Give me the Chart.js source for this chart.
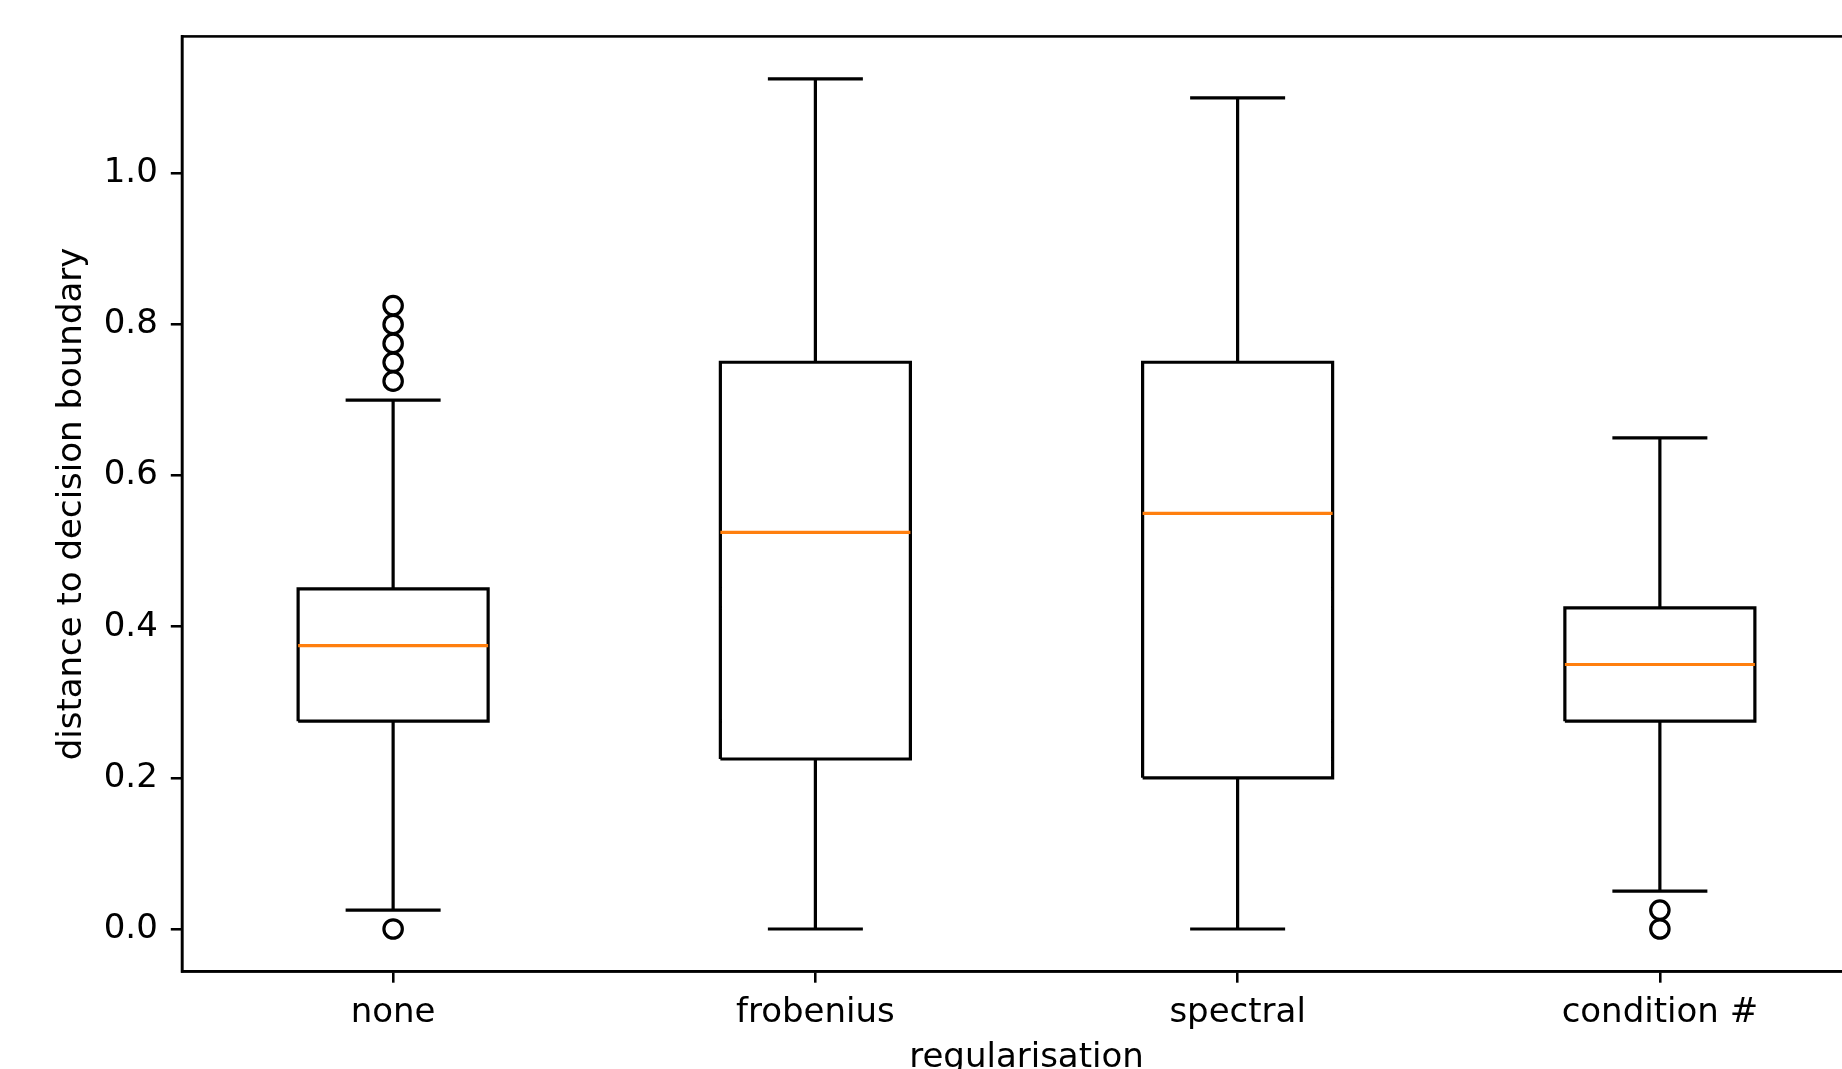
<!DOCTYPE html>
<html lang="en">
<head>
    <meta charset="UTF-8">
    <title>distance to decision boundary by regularisation</title>
    <script src="https://cdn.jsdelivr.net/npm/chart.js"></script>
    <style>
        html, body { margin: 0; padding: 0; background: #fff; overflow: hidden; }
        #wrap { width: 1900px; height: 1100px; }
    </style>
</head>
<body>
    <div id="wrap">
        <canvas id="boxChart" width="1900" height="1100"></canvas>
    </div>

    <script>
        // box plot summary per regularisation method
        const categories = ['none', 'frobenius', 'spectral', 'condition #'];
        const whiskerLow = [0.025, 0.0, 0.0, 0.05];
        const q1 = [0.275, 0.225, 0.2, 0.275];
        const medians = [0.375, 0.525, 0.55, 0.35];
        const q3 = [0.45, 0.75, 0.75, 0.425];
        const whiskerHigh = [0.7, 1.125, 1.1, 0.65];
        const fliers = [
            [0.0, 0.725, 0.75, 0.775, 0.8, 0.825],
            [],
            [],
            [0.0, 0.025]
        ];
        const yTicks = [0.0, 0.2, 0.4, 0.6, 0.8, 1.0];

        const positions = categories.map((c, i) => i + 1);
        const boxWidth = 0.45;
        const capWidth = boxWidth / 2;

        // build line points (null y breaks the line between boxes)
        const boxPts = [], medPts = [], whiskPts = [], flierPts = [];
        positions.forEach((p, i) => {
            const l = p - boxWidth / 2, r = p + boxWidth / 2;
            boxPts.push({x: l, y: q1[i]}, {x: r, y: q1[i]}, {x: r, y: q3[i]},
                        {x: l, y: q3[i]}, {x: l, y: q1[i]}, {x: p, y: null});
            medPts.push({x: l, y: medians[i]}, {x: r, y: medians[i]}, {x: p, y: null});
            whiskPts.push({x: p, y: q1[i]}, {x: p, y: whiskerLow[i]}, {x: p, y: null});
            whiskPts.push({x: p, y: q3[i]}, {x: p, y: whiskerHigh[i]}, {x: p, y: null});
            whiskPts.push({x: p - capWidth / 2, y: whiskerLow[i]}, {x: p + capWidth / 2, y: whiskerLow[i]}, {x: p, y: null});
            whiskPts.push({x: p - capWidth / 2, y: whiskerHigh[i]}, {x: p + capWidth / 2, y: whiskerHigh[i]}, {x: p, y: null});
            fliers[i].forEach(v => flierPts.push({x: p, y: v}));
        });

        const lw = 3.2;
        const lineStyle = {
            showLine: true,
            pointRadius: 0,
            borderWidth: lw,
            borderCapStyle: 'butt',
            borderJoinStyle: 'miter',
            spanGaps: false,
            fill: false
        };

        // axes frame (top / right spines)
        const frame = {
            id: 'frame',
            afterDraw(chart) {
                const {ctx, chartArea: a} = chart;
                ctx.save();
                ctx.strokeStyle = '#000';
                ctx.lineWidth = 2.56;
                ctx.strokeRect(a.left, a.top, a.right - a.left, a.bottom - a.top);
                ctx.restore();
            }
        };

        Chart.defaults.font.family = '"DejaVu Sans", sans-serif';
        Chart.defaults.font.size = 34;
        Chart.defaults.color = '#000';

        new Chart(document.getElementById('boxChart'), {
            type: 'scatter',
            data: {
                datasets: [
                    Object.assign({label: 'median', data: medPts, borderColor: '#ff7f0e'}, lineStyle),
                    Object.assign({label: 'box', data: boxPts, borderColor: '#000'}, lineStyle),
                    Object.assign({label: 'whiskers', data: whiskPts, borderColor: '#000'}, lineStyle),
                    {
                        label: 'fliers',
                        data: flierPts,
                        showLine: false,
                        pointStyle: 'circle',
                        pointRadius: 9.2,
                        pointBorderWidth: lw,
                        pointBorderColor: '#000',
                        pointBackgroundColor: 'rgba(0,0,0,0)'
                    }
                ]
            },
            options: {
                responsive: false,
                animation: false,
                events: [],
                layout: { padding: { top: 36.4, right: 29, bottom: 0, left: 0 } },
                plugins: {
                    legend: { display: false },
                    tooltip: { enabled: false }
                },
                scales: {
                    x: {
                        type: 'linear',
                        min: 0.5,
                        max: 4.5,
                        afterBuildTicks: s => { s.ticks = positions.map(v => ({value: v})); },
                        afterFit: s => { s.height = 128.5; },
                        border: { display: true, color: '#000', width: 2.56 },
                        grid: { drawOnChartArea: false, drawTicks: true, tickLength: 11.2, color: '#000', lineWidth: 2.56 },
                        ticks: {
                            padding: 10,
                            maxRotation: 0,
                            autoSkip: false,
                            callback: v => categories[Math.round(v) - 1]
                        },
                        title: {
                            display: true,
                            text: 'regularisation',
                            padding: { top: 0, bottom: 21.3 }
                        }
                    },
                    y: {
                        type: 'linear',
                        min: -0.05625,
                        max: 1.18125,
                        afterBuildTicks: s => { s.ticks = yTicks.map(v => ({value: v})); },
                        afterFit: s => { s.width = 182; },
                        border: { display: true, color: '#000', width: 2.56 },
                        grid: { drawOnChartArea: false, drawTicks: true, tickLength: 11.2, color: '#000', lineWidth: 2.56 },
                        ticks: {
                            padding: 13,
                            callback: v => v.toFixed(1)
                        },
                        title: {
                            display: true,
                            text: 'distance to decision boundary',
                            padding: { top: 52, bottom: 0 }
                        }
                    }
                }
            },
            plugins: [frame]
        });
    </script>
</body>
</html>
